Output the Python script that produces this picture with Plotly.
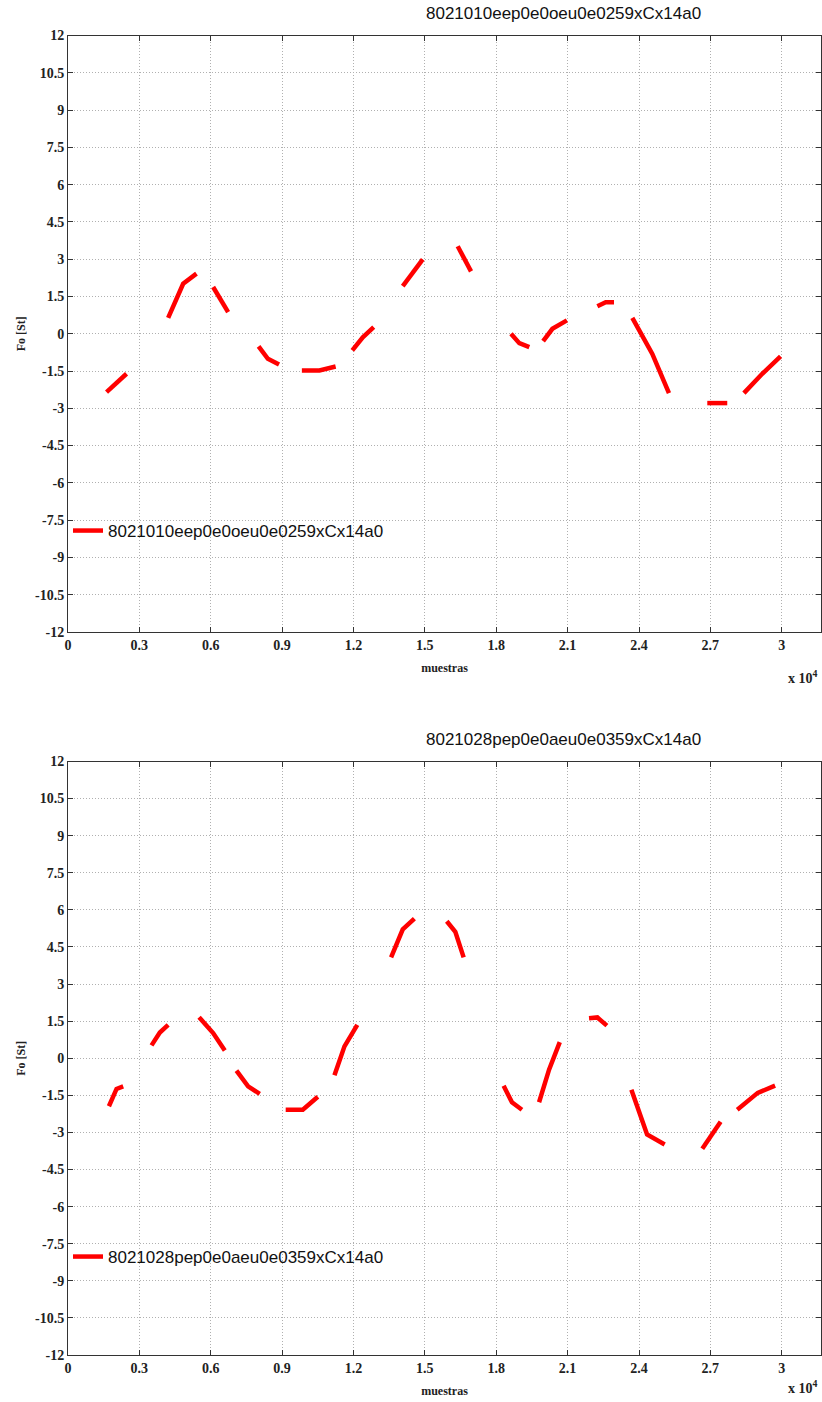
import plotly.graph_objects as go

# ---------------- data ----------------
top_name = "8021010eep0e0oeu0e0259xCx14a0"
bot_name = "8021028pep0e0aeu0e0359xCx14a0"

# voiced segments separated by None
top_x = [1620, 2040, 2460, None,
         4210, 4840, 5400, None,
         6100, 6730, None,
         8010, 8400, 8870, None,
         9830, 10570, 11250, None,
         11950, 12390, 12850, None,
         14070, 14910, None,
         16380, 16940, None,
         18620, 18970, 19390, None,
         19970, 20360, 20970, None,
         22250, 22600, 22950, None,
         23720, 24560, 25260, None,
         26870, 27710, None,
         28410, 29180, 29950]
top_y = [-2.35, -1.98, -1.61, None,
         0.64, 2.01, 2.42, None,
         1.88, 0.87, None,
         -0.51, -1.01, -1.24, None,
         -1.48, -1.48, -1.32, None,
         -0.67, -0.14, 0.27, None,
         1.92, 2.99, None,
         3.52, 2.51, None,
         0.0, -0.38, -0.54, None,
         -0.30, 0.20, 0.54, None,
         1.11, 1.27, 1.27, None,
         0.64, -0.81, -2.39, None,
         -2.79, -2.79, None,
         -2.39, -1.61, -0.91]

bot_x = [1720, 2040, 2320, None,
         3510, 3860, 4210, None,
         5510, 6100, 6590, None,
         7080, 7570, 8060, None,
         9150, 9870, 10500, None,
         11200, 11620, 12160, None,
         13580, 14070, 14560, None,
         15920, 16280, 16630, None,
         18310, 18660, 19080, None,
         19800, 20220, 20670, None,
         21900, 22250, 22650, None,
         23680, 24340, 25080, None,
         26660, 27430, None,
         28130, 28990, 29720]
bot_y = [-1.94, -1.24, -1.14, None,
         0.52, 1.04, 1.35, None,
         1.66, 1.02, 0.31, None,
         -0.50, -1.14, -1.44, None,
         -2.08, -2.08, -1.56, None,
         -0.69, 0.48, 1.35, None,
         4.08, 5.21, 5.65, None,
         5.54, 5.11, 4.08, None,
         -1.11, -1.78, -2.08, None,
         -1.78, -0.46, 0.65, None,
         1.62, 1.65, 1.32, None,
         -1.27, -3.08, -3.49, None,
         -3.66, -2.57, None,
         -2.08, -1.40, -1.11]

x_tickvals = [0, 3000, 6000, 9000, 12000, 15000, 18000, 21000, 24000, 27000, 30000]
x_ticktext = ["0", "0.3", "0.6", "0.9", "1.2", "1.5", "1.8", "2.1", "2.4", "2.7", "3"]
y_tickvals = [12, 10.5, 9, 7.5, 6, 4.5, 3, 1.5, 0, -1.5, -3, -4.5, -6, -7.5, -9, -10.5, -12]
y_ticktext = ["12", "10.5", "9", "7.5", "6", "4.5", "3", "1.5", "0", "-1.5", "-3", "-4.5",
              "-6", "-7.5", "-9", "-10.5", "-12"]

# ---------------- figure ----------------
W, H = 822, 1402
L, R = 68, 1
def py(p):  # page y (from top) -> paper fraction
    return (H - p) / H
def px(p):  # page x -> paper fraction (plot area)
    return (p - L) / (W - L - R)

fig = go.Figure()
fig.add_trace(go.Scatter(x=top_x, y=top_y, mode="lines", name=top_name,
                         line=dict(color="#ff0000", width=4.5), connectgaps=False,
                         xaxis="x", yaxis="y", legend="legend"))
fig.add_trace(go.Scatter(x=bot_x, y=bot_y, mode="lines", name=bot_name,
                         line=dict(color="#ff0000", width=4.5), connectgaps=False,
                         xaxis="x2", yaxis="y2", legend="legend2"))

tickfont = dict(family="Liberation Serif", size=14, color="#222", weight="bold")
titlefont = dict(family="Liberation Serif", size=12, color="#222", weight="bold")
xcommon = dict(range=[0, 31650], tickvals=x_tickvals, ticktext=x_ticktext,
               showgrid=True, gridcolor="#b0b0b0", griddash="1px,2px", gridwidth=1,
               showline=True, linecolor="#333", linewidth=1, mirror="ticks",
               ticks="inside", ticklen=5, tickcolor="#333", tickfont=tickfont,
               zeroline=False, automargin=False,
               title=dict(text="muestras", font=titlefont, standoff=11))
ycommon = dict(range=[-12, 12], tickvals=y_tickvals, ticktext=y_ticktext,
               showgrid=True, gridcolor="#b0b0b0", griddash="1px,2px", gridwidth=1,
               showline=True, linecolor="#333", linewidth=1, mirror="ticks",
               ticks="inside", ticklen=5, tickcolor="#333", tickfont=tickfont,
               zeroline=False, automargin=False,
               title=dict(text="Fo [St]", font=titlefont, standoff=6))

top_dom = [py(632), py(35.5)]
bot_dom = [py(1355), py(761.5)]

legfont = dict(family="Liberation Sans", size=17, color="#111")
fig.update_layout(
    width=W, height=H,
    margin=dict(l=L, r=R, t=0, b=0),
    paper_bgcolor="white", plot_bgcolor="white",
    xaxis=dict(**xcommon, domain=[0, 1], anchor="y"),
    yaxis=dict(**ycommon, domain=top_dom, anchor="x"),
    xaxis2=dict(**xcommon, domain=[0, 1], anchor="y2"),
    yaxis2=dict(**ycommon, domain=bot_dom, anchor="x2"),
    legend=dict(x=px(68), y=py(531), xanchor="left", yanchor="middle",
                bgcolor="rgba(255,255,255,0)", font=legfont, itemwidth=30),
    legend2=dict(x=px(68), y=py(1257), xanchor="left", yanchor="middle",
                 bgcolor="rgba(255,255,255,0)", font=legfont, itemwidth=30),
    showlegend=True,
)

titfont = dict(family="Liberation Sans", size=17, color="#111")
fig.add_annotation(text=top_name, xref="paper", yref="paper", x=px(563), y=py(14),
                   showarrow=False, font=titfont, xanchor="center", yanchor="middle")
fig.add_annotation(text=bot_name, xref="paper", yref="paper", x=px(563), y=py(739),
                   showarrow=False, font=titfont, xanchor="center", yanchor="middle")
expfont = dict(family="Liberation Serif", size=14, color="#222", weight="bold")
fig.add_annotation(text="x 10<sup>4</sup>", xref="paper", yref="paper", x=px(820), y=py(677),
                   showarrow=False, font=expfont, xanchor="right", yanchor="middle")
fig.add_annotation(text="x 10<sup>4</sup>", xref="paper", yref="paper", x=px(820), y=py(1387),
                   showarrow=False, font=expfont, xanchor="right", yanchor="middle")

fig.write_html("out.html", config={"displayModeBar": False},
               post_script="document.body.style.margin='0';document.body.style.overflow='hidden';")
